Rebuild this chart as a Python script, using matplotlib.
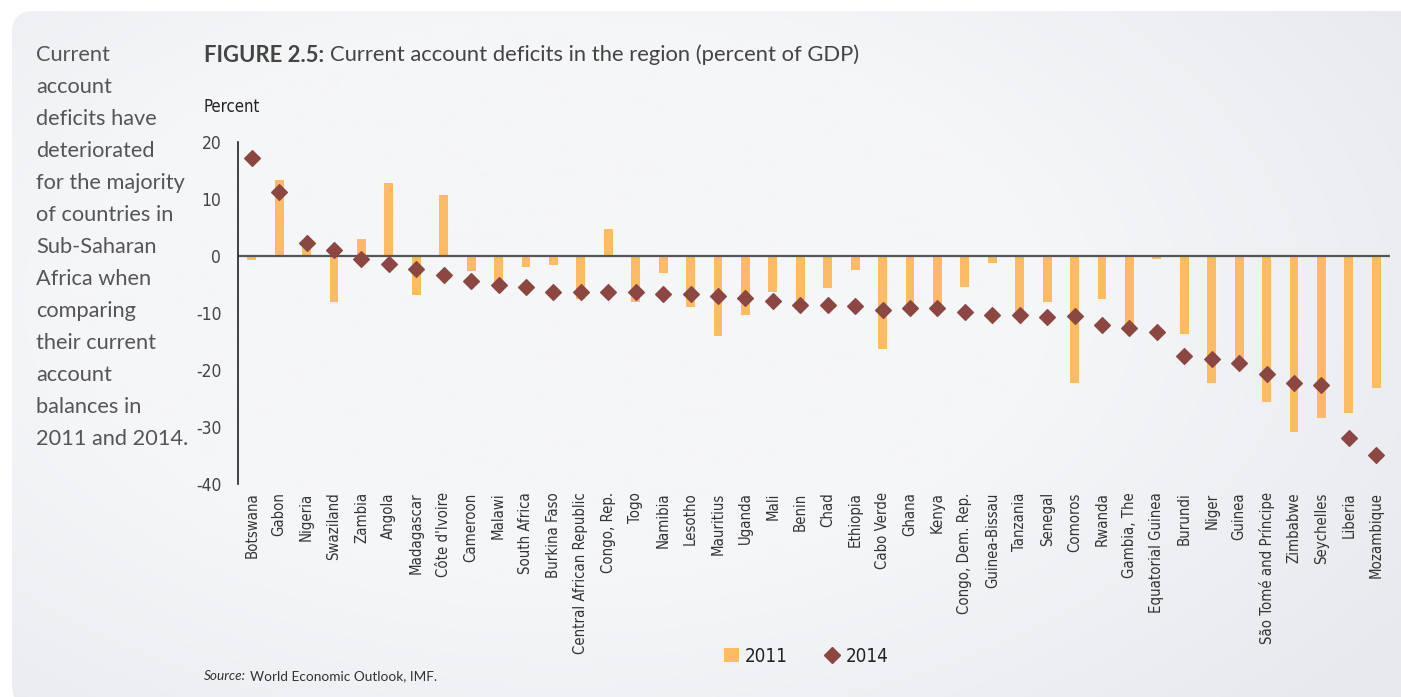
import matplotlib
matplotlib.use("Agg")
import matplotlib.pyplot as plt
import numpy as np
from matplotlib.patches import FancyBboxPatch, Patch
from matplotlib.lines import Line2D
from matplotlib.text import Annotation
import matplotlib.font_manager as fm

countries = ["Botswana", "Gabon", "Nigeria", "Swaziland", "Zambia", "Angola", "Madagascar",
             "Côte d'Ivoire", "Cameroon", "Malawi", "South Africa", "Burkina Faso",
             "Central African Republic", "Congo, Rep.", "Togo", "Namibia", "Lesotho",
             "Mauritius", "Uganda", "Mali", "Benin", "Chad", "Ethiopia", "Cabo Verde",
             "Ghana", "Kenya", "Congo, Dem. Rep.", "Guinea-Bissau", "Tanzania", "Senegal",
             "Comoros", "Rwanda", "Gambia, The", "Equatorial Guinea", "Burundi", "Niger",
             "Guinea", "São Tomé and Príncipe", "Zimbabwe", "Seychelles", "Liberia",
             "Mozambique"]
values_2011 = [-0.7, 13.4, 2.2, -8.1, 3.0, 12.8, -6.9, 10.7, -2.7, -6.0, -2.0, -1.6,
               -7.5, 4.7, -8.1, -3.0, -9.0, -14.0, -10.4, -6.3, -7.8, -5.6, -2.4, -16.4,
               -8.6, -8.6, -5.4, -1.2, -10.1, -8.1, -22.3, -7.5, -12.5, -0.6, -13.7,
               -22.3, -18.5, -25.6, -30.9, -28.5, -27.6, -23.2]
values_2014 = [17.2, 11.2, 2.3, 1.1, -0.5, -1.4, -2.2, -3.4, -4.3, -5.0, -5.4, -6.3,
               -6.3, -6.3, -6.3, -6.7, -6.6, -7.0, -7.4, -7.9, -8.6, -8.6, -8.8, -9.4,
               -9.1, -9.1, -9.8, -10.4, -10.3, -10.7, -10.6, -12.1, -12.7, -13.4, -17.5,
               -18.1, -18.7, -20.7, -22.3, -22.7, -32.0, -34.9]
yticks = [20, 10, 0, -10, -20, -30, -40]

cond_font = None
for f in fm.fontManager.ttflist:
    nm = f.name
    if (('Narrow' in nm or 'Condensed' in nm or str(f.stretch) in ('condensed', 'semi-condensed'))
            and f.style == 'normal' and str(f.weight) in ('400', 'normal', 'regular')):
        cond_font = f.fname
        break
avail = {f.name for f in fm.fontManager.ttflist}
body = 'Lato' if 'Lato' in avail else 'DejaVu Sans'
if cond_font:
    def cprop(size):
        return fm.FontProperties(fname=cond_font, size=size)
    tick_size, ytick_size, pct_size, leg_size = 10.7, 12.5, 12, 13.5
else:
    def cprop(size):
        return fm.FontProperties(family=body, size=size)
    tick_size, ytick_size, pct_size, leg_size = 9.6, 12.5, 12, 13

W, H = 1401, 697
fig = plt.figure(figsize=(W / 100, H / 100), dpi=100)
fig.patch.set_facecolor('white')

# background panel with soft radial shading
bg = fig.add_axes([0, 0, 1, 1], zorder=-10)
bg.set_xlim(0, W)
bg.set_ylim(H, 0)
bg.axis('off')
yy, xx = np.mgrid[0:H:2, 0:W:2]
d = np.sqrt(((xx - 560) / 900.0) ** 2 + ((yy - 300) / 520.0) ** 2)
d = np.clip((d - 0.55) / 0.6, 0, 1)
c0 = np.array([0xf5, 0xf6, 0xf8]) / 255.0
c1 = np.array([0xe7, 0xe9, 0xed]) / 255.0
img = c0[None, None, :] * (1 - d[..., None]) + c1[None, None, :] * d[..., None]
panel = FancyBboxPatch((12, 11), W + 10, H + 10 - 11,
                       boxstyle="round,pad=0,rounding_size=22",
                       facecolor='none', edgecolor='none')
bg.add_patch(panel)
im = bg.imshow(img, extent=(0, W, H, 0), aspect='auto', interpolation='bilinear')
im.set_clip_path(panel)

ax = fig.add_axes([238 / W, (H - 484) / H, (1390 - 238) / W, (484 - 142) / H])
ax.set_facecolor('none')
ax.set_zorder(2)

x = list(range(len(countries)))
ax.bar(x, values_2011, width=0.32, color='#fdbb63', zorder=2)
ax.scatter(x, values_2014, marker='D', s=64, color='#8c4742', zorder=3)
ax.axhline(0, color='#555555', lw=1.6, zorder=2.5)

ax.set_xlim(-0.5, len(countries) - 0.5)
ax.set_ylim(-40, 20)
ax.set_yticks(yticks)
ax.set_yticklabels([str(v) for v in yticks], color='#444444')
for lab in ax.get_yticklabels():
    lab.set_fontproperties(cprop(ytick_size))
ax.set_xticks(x)
ax.set_xticklabels(countries, rotation=90, color='#333333')
for lab in ax.get_xticklabels():
    lab.set_fontproperties(cprop(tick_size))
ax.tick_params(axis='both', length=0)
ax.tick_params(axis='y', pad=12)
ax.tick_params(axis='x', pad=6)
for s in ['top', 'right', 'bottom']:
    ax.spines[s].set_visible(False)
ax.spines['left'].set_color('#222222')
ax.spines['left'].set_linewidth(1.2)

# title
t1 = fig.text(204 / W, 1 - 55 / H, "FIGURE 2.5:", fontfamily=body, fontweight='bold',
              fontsize=15.8, color='#444444', va='center', ha='left')
t2 = Annotation("Current account deficits in the region (percent of GDP)", xy=(1, 0.5),
                xycoords=t1, xytext=(4, 0), textcoords='offset points',
                fontfamily=body, fontsize=15.8, color='#444444', va='center', ha='left')
fig.add_artist(t2)
fig.text(204 / W, 1 - 107 / H, "Percent", fontproperties=cprop(pct_size),
         color='#222222', va='center', ha='left')

# side text
side = ["Current", "account", "deficits have", "deteriorated", "for the majority",
        "of countries in", "Sub-Saharan", "Africa when", "comparing", "their current",
        "account", "balances in", "2011 and 2014."]
for i, line in enumerate(side):
    fig.text(36 / W, 1 - (55 + i * 32) / H, line, fontfamily=body, fontsize=15.7,
             color='#555555', va='center', ha='left')

# legend
handles = [Patch(facecolor='#fdbb63', edgecolor='none', label='2011'),
           Line2D([], [], marker='D', color='#8c4742', lw=0, markersize=8, label='2014')]
leg = fig.legend(handles=handles, loc='center', bbox_to_anchor=(806 / W, 1 - 656 / H),
                 ncol=2, frameon=False, prop=cprop(leg_size),
                 handlelength=0.8, handletextpad=0.3, columnspacing=2.0)
for t in leg.get_texts():
    t.set_color('#222222')

# source
s1 = fig.text(204 / W, 1 - 676 / H, "Source:", fontfamily=body, fontstyle='italic',
              fontsize=9.8, color='#333333', va='center', ha='left')
s2 = Annotation("World Economic Outlook, IMF.", xy=(1, 0.5), xycoords=s1, xytext=(3, 0),
                textcoords='offset points', fontfamily=body, fontsize=9.8,
                color='#333333', va='center', ha='left')
fig.add_artist(s2)

fig.savefig('out.png', dpi=100)
